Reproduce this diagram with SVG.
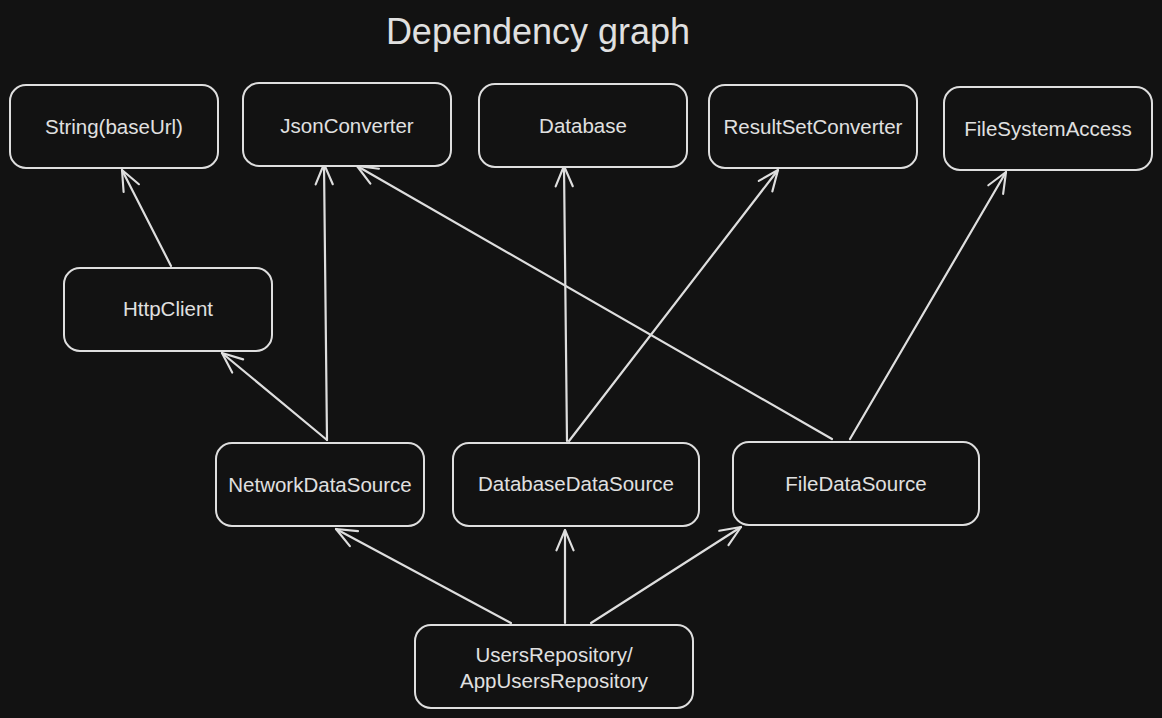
<svg xmlns="http://www.w3.org/2000/svg" width="1162" height="718" viewBox="0 0 1162 718">
<defs>
<marker id="arr" markerUnits="userSpaceOnUse" markerWidth="30" markerHeight="30" viewBox="-24 -12 28 24" refX="0" refY="0" orient="auto">
<path d="M -19 -8 L 0 0 L -19 8" fill="none" stroke="#dedede" stroke-width="2" stroke-linecap="round" stroke-linejoin="round"/>
</marker>
<style>
.box{fill:#121212;stroke:#dedede;stroke-width:2}
.lbl{font-family:"Liberation Sans",Arial,sans-serif;font-size:20.5px;fill:#e0e0e0;text-anchor:middle;dominant-baseline:central}
.edge{fill:none;stroke:#dedede;stroke-width:2.2;stroke-linecap:round;marker-end:url(#arr)}
.title{font-family:"Liberation Sans",Arial,sans-serif;font-size:36px;fill:#e0e0e0;text-anchor:middle}
</style>
</defs>
<rect x="0" y="0" width="1162" height="718" fill="#121212"/>
<text class="title" x="538" y="44">Dependency graph</text>
<g id="connectors">
<line class="edge" x1="171" y1="266" x2="122" y2="170"/>
<line class="edge" x1="327" y1="440" x2="222" y2="353"/>
<line class="edge" x1="327" y1="440" x2="324" y2="164"/>
<line class="edge" x1="832" y1="439" x2="357" y2="166"/>
<line class="edge" x1="567" y1="441" x2="564" y2="166"/>
<line class="edge" x1="569" y1="441" x2="778" y2="170"/>
<line class="edge" x1="850" y1="439" x2="1006" y2="172"/>
<line class="edge" x1="511" y1="623" x2="336" y2="529"/>
<line class="edge" x1="565" y1="623" x2="565" y2="530"/>
<line class="edge" x1="591" y1="623" x2="741" y2="527"/>
</g>
<g id="string-baseurl"><rect class="box" x="10" y="85" width="208" height="83" rx="16"/><text class="lbl" x="114" y="126">String(baseUrl)</text></g>
<g id="jsonconverter"><rect class="box" x="243" y="83" width="208" height="83" rx="16"/><text class="lbl" x="347" y="125">JsonConverter</text></g>
<g id="database"><rect class="box" x="479" y="84" width="208" height="83" rx="16"/><text class="lbl" x="583" y="125">Database</text></g>
<g id="resultsetconverter"><rect class="box" x="709" y="85" width="208" height="83" rx="16"/><text class="lbl" x="813" y="126">ResultSetConverter</text></g>
<g id="filesystemaccess"><rect class="box" x="944" y="87" width="208" height="83" rx="16"/><text class="lbl" x="1048" y="128">FileSystemAccess</text></g>
<g id="httpclient"><rect class="box" x="64" y="268" width="208" height="83" rx="16"/><text class="lbl" x="168" y="308">HttpClient</text></g>
<g id="networkdatasource"><rect class="box" x="216" y="443" width="208" height="83" rx="16"/><text class="lbl" x="320" y="484">NetworkDataSource</text></g>
<g id="databasedatasource"><rect class="box" x="453" y="443" width="246" height="83" rx="16"/><text class="lbl" x="576" y="483">DatabaseDataSource</text></g>
<g id="filedatasource"><rect class="box" x="733" y="442" width="246" height="83" rx="16"/><text class="lbl" x="856" y="483">FileDataSource</text></g>
<g id="usersrepository"><rect class="box" x="415" y="625" width="278" height="83" rx="16"/><text class="lbl" x="554" y="654">UsersRepository/</text><text class="lbl" x="554" y="680">AppUsersRepository</text></g>
</svg>
